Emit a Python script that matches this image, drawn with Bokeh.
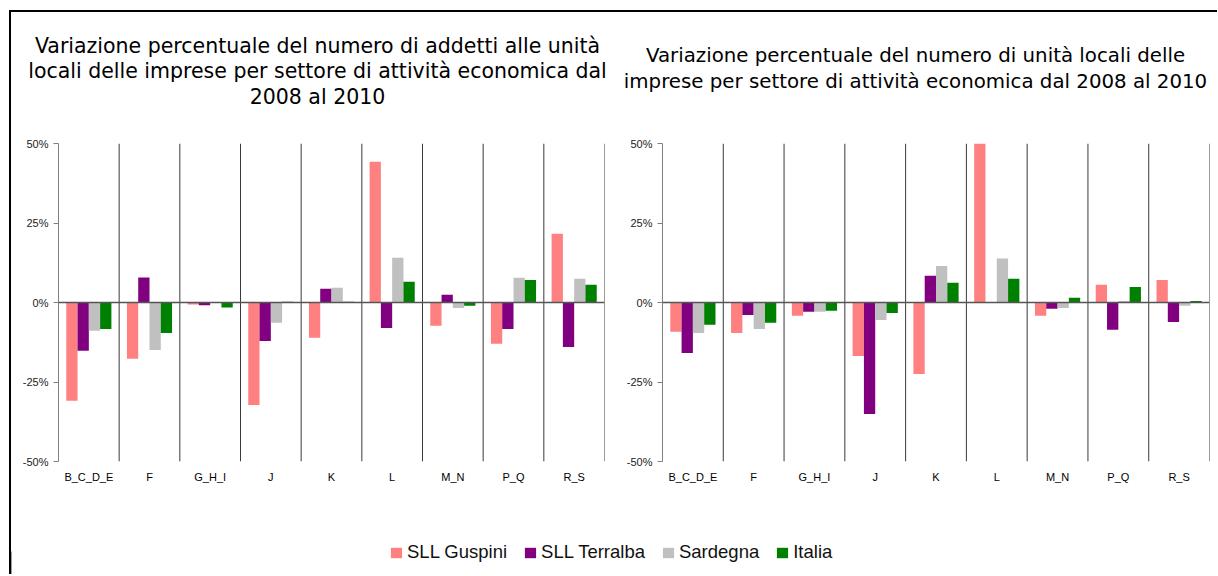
from bokeh.plotting import figure
from bokeh.models import (Range1d, FactorRange, FixedTicker, Span,
                          Legend, LegendItem)
from bokeh.layouts import row, column
from bokeh.transform import dodge
from bokeh.core.properties import value
from bokeh.embed import file_html
from bokeh.resources import INLINE

categories = ["B_C_D_E", "F", "G_H_I", "J", "K", "L", "M_N", "P_Q", "R_S"]
series = ["SLL Guspini", "SLL Terralba", "Sardegna", "Italia"]
colors = ["#FF8080", "#800080", "#C0C0C0", "#008000"]

# Variazione % addetti 2008-2010
addetti_guspini = [-30.9, -17.7, -0.6, -32.2, -11.1, 44.3, -7.3, -13.0, 21.6]
addetti_terralba = [-15.2, 7.9, -0.9, -12.1, 4.3, -8.0, 2.4, -8.3, -14.0]
addetti_sardegna = [-8.9, -14.9, 0.0, -6.4, 4.6, 14.1, -1.7, 7.8, 7.5]
addetti_italia = [-8.3, -9.6, -1.6, 0.2, 0.2, 6.5, -1.0, 7.1, 5.6]

# Variazione % unità locali 2008-2010
unita_guspini = [-9.2, -9.6, -4.2, -16.8, -22.5, 52.0, -4.2, 5.6, 7.1]
unita_terralba = [-15.9, -3.9, -2.9, -35.1, 8.4, 0.0, -2.0, -8.6, -6.1]
unita_sardegna = [-9.6, -8.3, -2.9, -5.5, 11.5, 13.8, -1.7, 0.5, -1.0]
unita_italia = [-7.0, -6.4, -2.6, -3.3, 6.2, 7.5, 1.5, 4.9, 0.5]

y_ticks = [-50, -25, 0, 25, 50]
y_tick_labels = ["-50%", "-25%", "0%", "25%", "50%"]

title_left = ["Variazione percentuale del numero di addetti alle unità",
              "locali delle imprese per settore di attività economica dal",
              "2008 al 2010"]
title_right = ["Variazione percentuale del numero di unità locali delle",
               "imprese per settore di attività economica dal 2008 al 2010"]

FONT = "Liberation Sans"
TITLE_FONT = "DejaVu Sans"
TITLE_H = 100
ROW_H = 416
MB_TOP = 31
FRAME_H = 318
OFFSETS = [-0.279, -0.093, 0.093, 0.279]
BAR_W = 0.186
W1, W2 = 597, 609


def make_title(lines, width, cx, ys, size):
    t = figure(width=width, height=TITLE_H, x_range=Range1d(0, width),
               y_range=Range1d(TITLE_H, 0), output_backend="svg",
               toolbar_location=None, min_border=0)
    t.axis.visible = False
    t.grid.visible = False
    t.outline_line_color = None
    t.text(x=[cx] * len(lines), y=ys, text=lines, text_align="center",
           text_baseline="middle", text_font=value(TITLE_FONT),
           text_font_size=size, text_color="#000000")
    return t


def make_chart(values, width, mbl, mbr):
    p = figure(x_range=FactorRange(*categories), y_range=Range1d(-50, 50),
               width=width, height=ROW_H, output_backend="svg",
               toolbar_location=None, min_border_left=mbl,
               min_border_right=mbr, min_border_top=MB_TOP,
               min_border_bottom=ROW_H - MB_TOP - FRAME_H)
    p.outline_line_color = None
    p.xgrid.visible = False
    p.ygrid.visible = False

    data = {"cat": categories}
    for s, v in zip(series, values):
        data[s] = v
    for s, off, c in zip(series, OFFSETS, colors):
        p.vbar(x=dodge("cat", off, range=p.x_range), top=s, bottom=0,
               width=BAR_W, source=data, fill_color=c, line_color=None)

    bnds = list(range(1, len(categories) + 1))
    p.segment(x0=bnds, x1=bnds, y0=[y_ticks[0]] * len(bnds),
              y1=[y_ticks[-1]] * len(bnds), line_color="#3a3a3a",
              line_width=1)
    p.add_layout(Span(location=0, dimension="width", line_color="#555555",
                      line_width=1.5))

    xa = p.xaxis[0]
    xa.axis_line_color = None
    xa.major_tick_line_color = None
    xa.minor_tick_line_color = None
    xa.major_label_text_font = FONT
    xa.major_label_text_font_size = "11px"
    xa.major_label_text_color = "#000000"
    xa.major_label_standoff = 3

    ya = p.yaxis[0]
    ya.ticker = FixedTicker(ticks=y_ticks)
    ya.major_label_overrides = dict(zip(y_ticks, y_tick_labels))
    ya.axis_line_color = "#808080"
    ya.major_tick_line_color = "#808080"
    ya.major_tick_out = 5
    ya.major_tick_in = 0
    ya.minor_tick_line_color = None
    ya.major_label_text_font = FONT
    ya.major_label_text_font_size = "11px"
    ya.major_label_text_color = "#222222"
    ya.major_label_standoff = 5
    return p


t1 = make_title(title_left, W1, 306, [33, 58, 84], "20.5px")
t2 = make_title(title_right, W2, 307, [43, 69], "19.8px")
p1 = make_chart([addetti_guspini, addetti_terralba, addetti_sardegna,
                 addetti_italia], W1, 47, 4)
p2 = make_chart([unita_guspini, unita_terralba, unita_sardegna,
                 unita_italia], W2, 54, 8)

# legend strip
pl = figure(width=W1 + W2, height=46, x_range=Range1d(0, 1),
            y_range=Range1d(0, 1), output_backend="svg",
            toolbar_location=None, min_border=0)
pl.axis.visible = False
pl.grid.visible = False
pl.outline_line_color = None
items = []
for s, c in zip(series, colors):
    r = pl.vbar(x=[-5], top=[0.5], width=0.1, fill_color=c, line_color=None)
    items.append(LegendItem(label=s, renderers=[r]))
leg = Legend(items=items, orientation="horizontal",
             location=(391 - 13, 11),
             glyph_width=14, glyph_height=13, label_standoff=4, spacing=16,
             label_text_font=FONT, label_text_font_size="18.5px",
             label_text_color="#111111", border_line_color=None,
             background_fill_alpha=0, padding=0, margin=0)
pl.add_layout(leg, "center")

layout = column(row(t1, t2), row(p1, p2), pl,
                styles={"border-left": "2px solid black",
                        "border-top": "2px solid black",
                        "margin-left": "9px", "margin-top": "10px"})

open("out.html", "w").write(file_html(layout, INLINE))
